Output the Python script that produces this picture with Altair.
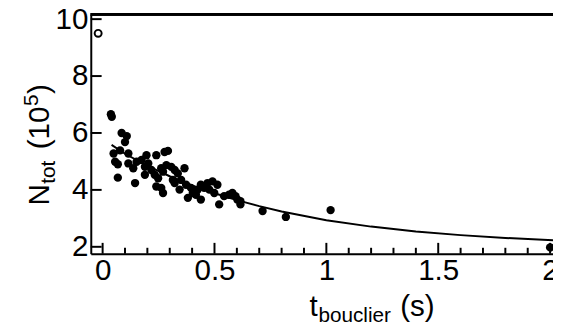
import altair as alt
import pandas as pd

# ---- data ----
t_pts = [0.037, 0.041, 0.085, 0.108, 0.100, 0.049, 0.056, 0.068, 0.068, 0.078,
         0.115, 0.115, 0.137, 0.145, 0.152, 0.174, 0.196, 0.189, 0.204, 0.189,
         0.218, 0.240, 0.233, 0.248, 0.240, 0.270, 0.262, 0.277, 0.292, 0.285,
         0.270, 0.262, 0.307, 0.322, 0.314, 0.336, 0.322, 0.344, 0.366, 0.351,
         0.373, 0.381, 0.395, 0.403, 0.417, 0.425, 0.439, 0.439, 0.454, 0.469,
         0.477, 0.491, 0.499, 0.513, 0.521, 0.543, 0.565, 0.580, 0.594, 0.602,
         0.616, 0.616, 0.715, 0.819, 1.019, 2.000]
n_pts = [6.66, 6.57, 6.00, 5.89, 5.68, 5.28, 4.99, 4.90, 4.43, 5.39,
         5.28, 4.93, 4.76, 4.24, 4.99, 5.05, 5.22, 4.81, 4.93, 4.53,
         4.70, 5.22, 4.53, 4.41, 4.12, 3.89, 4.07, 5.33, 5.37, 4.87,
         4.64, 4.76, 4.81, 4.70, 4.35, 4.58, 4.24, 4.01, 4.76, 4.35,
         4.18, 3.72, 4.07, 3.89, 3.83, 4.01, 4.18, 3.66, 4.07, 4.24,
         4.01, 4.30, 3.89, 4.18, 3.49, 3.78, 3.83, 3.89, 3.78, 3.66,
         3.49, 3.60, 3.26, 3.05, 3.29, 1.98]

t_open = [-0.02]
n_open = [9.50]

t_fit = [0.04, 0.10, 0.20, 0.30, 0.40, 0.50, 0.60, 0.70, 0.80, 1.00, 1.20, 1.40, 1.60, 1.80, 2.02]
n_fit = [5.58, 5.27, 4.84, 4.48, 4.16, 3.88, 3.64, 3.43, 3.24, 2.93, 2.71, 2.54, 2.41, 2.31, 2.23]

x_major = [0, 0.5, 1, 1.5, 2]
x_minor = [0.1, 0.2, 0.3, 0.4, 0.6, 0.7, 0.8, 0.9, 1.1, 1.2, 1.3, 1.4, 1.6, 1.7, 1.8, 1.9]
y_major = [2, 4, 6, 8, 10]

W, H = 469, 243
FONT = "Liberation Sans"
XD = [-0.0529, 2.013]
YD = [1.7576, 10.173]

xs = alt.Scale(domain=XD, nice=False, zero=False)
ys = alt.Scale(domain=YD, nice=False, zero=False)

pts = pd.DataFrame({"t": t_pts, "n": n_pts})
opn = pd.DataFrame({"t": t_open, "n": n_open})
fit = pd.DataFrame({"t": t_fit, "n": n_fit})
xmaj = pd.DataFrame({"v": x_major})
xmin_ = pd.DataFrame({"v": x_minor})
ymaj = pd.DataFrame({"v": y_major})

base_x = alt.X("t:Q", scale=xs,
               axis=alt.Axis(values=x_major, ticks=False, tickSize=0, labelPadding=2,
                             labelFontSize=30, labelFont=FONT, labelColor="black",
                             domainColor="black", domainWidth=2, grid=False, title=None,
                             labelExpr="format(datum.value, '~g')"))
base_y = alt.Y("n:Q", scale=ys,
               axis=alt.Axis(values=y_major, ticks=False, tickSize=0, labelPadding=3,
                             labelFontSize=30, labelFont=FONT, labelColor="black",
                             domainColor="black", domainWidth=2, grid=False, title=None,
                             labelBaseline="middle"))

fit_line = alt.Chart(fit).mark_line(color="black", strokeWidth=2, clip=True).encode(x=base_x, y=base_y)
dots = alt.Chart(pts).mark_circle(color="black", opacity=1, size=72, clip=True).encode(
    x=alt.X("t:Q", scale=xs), y=alt.Y("n:Q", scale=ys))
open_dot = alt.Chart(opn).mark_point(shape="circle", filled=False, color="black", opacity=1,
                                     strokeWidth=2, size=50).encode(
    x=alt.X("t:Q", scale=xs), y=alt.Y("n:Q", scale=ys))

xtick_major = alt.Chart(xmaj).mark_rule(color="black", strokeWidth=2).encode(
    x=alt.X("v:Q", scale=xs), y=alt.value(H), y2=alt.value(H - 11))
xtick_minor = alt.Chart(xmin_).mark_rule(color="black", strokeWidth=2).encode(
    x=alt.X("v:Q", scale=xs), y=alt.value(H), y2=alt.value(H - 6))
ytick_major = alt.Chart(ymaj).mark_rule(color="black", strokeWidth=2).encode(
    y=alt.Y("v:Q", scale=ys), x=alt.value(0), x2=alt.value(11))
top_line = alt.Chart(xmaj).mark_rule(color="black", strokeWidth=2.5).encode(
    y=alt.value(0), x=alt.value(0), x2=alt.value(W + 20))

# axis titles built from pieces (subscripts / superscripts)
def txt(s, x, y, size, angle=0):
    return alt.Chart(xmaj).transform_filter("datum.v == 0").mark_text(
        text=s, font=FONT, fontSize=size, color="black", align="left",
        baseline="alphabetic", angle=angle).encode(x=alt.value(x), y=alt.value(y))

XT0 = 222
xt = [
    txt("t", XT0, H + 63, 30),
    txt("bouclier", XT0 + 9, H + 69, 21),
    txt("(s)", XT0 + 92, H + 63, 30),
]
YT0 = 194
yx = -42
yt = [
    txt("N", yx, YT0, 30, 270),
    txt("tot", yx + 6, YT0 - 22, 21, 270),
    txt("(10", yx, YT0 - 57, 30, 270),
    txt("5", yx - 12, YT0 - 101, 21, 270),
    txt(")", yx, YT0 - 113, 30, 270),
]

chart = alt.layer(fit_line, dots, open_dot, xtick_major, xtick_minor, ytick_major, top_line,
                  *xt, *yt).properties(
    width=W, height=H,
    autosize=alt.AutoSizeParams(type="none"),
    padding={"left": 84, "top": 4, "right": 0, "bottom": 68},
).configure_view(stroke=None).configure(background="white")

chart.save("out.html", embed_options={"renderer": "svg", "actions": False})
